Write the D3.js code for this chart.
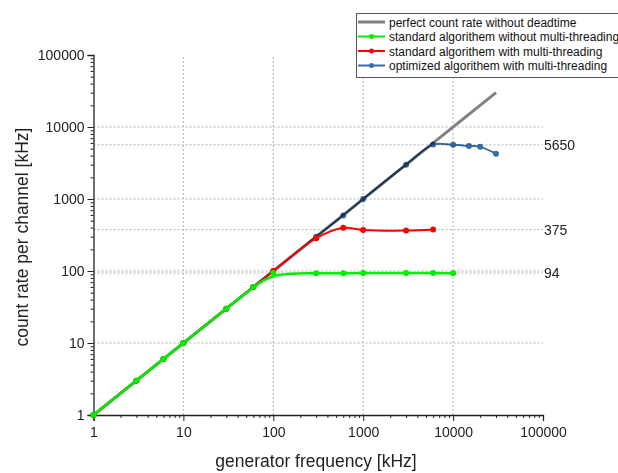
<html>
<script src="https://d3js.org/d3.v7.min.js"></script>
<body style="margin:0;background:white">
<svg width="618" height="473" id="chart"></svg>
<script>

// data
var perfectFreq= [1, 30000];
var perfectRate= [1, 30000];

var stdFreq= [1, 3, 6, 10, 30, 60, 100, 300, 600, 1000, 3000, 6000, 10000];
var stdRate= [1, 3, 6, 10, 30, 60, 94, 93, 93, 94, 94, 94, 93];

var stdMtFreq= [1, 3, 6, 10, 30, 60, 100, 300, 600, 1000, 3000, 6000];
var stdMtRate= [1, 3, 6, 10, 30, 60, 100, 285, 398, 372, 364, 377];

var optFreq= [1, 3, 6, 10, 30, 60, 100, 300, 600, 1000, 3000, 6000, 10000, 15000, 20000, 30000];
var optRate= [1, 3, 6, 10, 30, 60, 100, 300, 590, 1000, 3000, 5700, 5650, 5450, 5300, 4250];

var decades= [1, 10, 100, 1000, 10000, 100000];
var levelValues= [94, 375, 5650];

var seriesNames= ["perfect count rate without deadtime",
  "standard algorithem without multi-threading",
  "standard algorithem with multi-threading",
  "optimized algorithem with multi-threading"];

var svg= d3.select("#chart");
var font= "'Liberation Sans', Arial, sans-serif";

var x= d3.scaleLog().domain([1, 100000]).range([93.5, 543]);
var y= d3.scaleLog().domain([1, 100000]).range([415, 55]);

// minor ticks 2..9 in each decade
var minors= [];
decades.slice(0, 5).forEach(function (d) {
  for (var k= 2; k < 10; k++) minors.push(d * k);
});

// grid lines
var gridY= [10, 100, 1000, 10000].concat(levelValues);
svg.append("g").selectAll("line").data(gridY).enter().append("line")
  .attr("x1", x(1)).attr("x2", x(100000))
  .attr("y1", function (d) { return y(d); })
  .attr("y2", function (d) { return y(d); })
  .style("stroke", "#b4b4b4").style("stroke-width", 1)
  .style("stroke-dasharray", "2,2");

svg.append("g").selectAll("line").data([10, 100, 1000, 10000]).enter().append("line")
  .attr("y1", y(1)).attr("y2", y(100000))
  .attr("x1", function (d) { return x(d); })
  .attr("x2", function (d) { return x(d); })
  .style("stroke", "#b4b4b4").style("stroke-width", 1)
  .style("stroke-dasharray", "2,2");

// level labels on the right
svg.append("g").selectAll("text").data(levelValues).enter().append("text")
  .attr("x", x(100000) + 1)
  .attr("y", function (d) { return y(d) + 5; })
  .style("font-family", font).style("font-size", "14px").style("fill", "#222")
  .text(function (d) { return d; });

// axes
var fmt= function (d) { return String(d); };
var xAxis= svg.append("g").attr("transform", "translate(0," + y(1) + ")");
xAxis.call(d3.axisBottom(x).tickValues(decades).tickFormat(fmt).tickSize(6).tickPadding(6));
var xMinor= svg.append("g").attr("transform", "translate(0," + y(1) + ")");
xMinor.call(d3.axisBottom(x).tickValues(minors).tickFormat("").tickSize(3));

var yAxis= svg.append("g").attr("transform", "translate(" + x(1) + ",0)");
yAxis.call(d3.axisLeft(y).tickValues(decades).tickFormat(fmt).tickSize(6).tickPadding(3));
var yMinor= svg.append("g").attr("transform", "translate(" + x(1) + ",0)");
yMinor.call(d3.axisLeft(y).tickValues(minors).tickFormat("").tickSize(3));

svg.selectAll(".domain").style("stroke", "#222").style("stroke-width", 1.3);
svg.selectAll(".tick line").style("stroke", "#222");
svg.selectAll(".tick text").style("font-family", font).style("font-size", "14px").style("fill", "#222");
xMinor.select(".domain").remove();
yMinor.select(".domain").remove();

// axis titles
svg.append("text")
  .attr("x", 316).attr("y", 467)
  .attr("text-anchor", "middle")
  .style("font-family", font).style("font-size", "17.5px").style("fill", "#222")
  .text("generator frequency [kHz]");

svg.append("text")
  .attr("transform", "translate(28,237) rotate(-90)")
  .attr("text-anchor", "middle")
  .style("font-family", font).style("font-size", "17.5px").style("fill", "#222")
  .text("count rate per channel [kHz]");

// series
var makeLine= function (curve) {
  return d3.line()
    .x(function (d) { return x(d[0]); })
    .y(function (d) { return y(d[1]); })
    .curve(curve);
};

var drawSeries= function (freq, rate, color, width, dots, curve, blend) {
  var pts= d3.zip(freq, rate);
  var g= svg.append("g");
  if (blend) g.style("mix-blend-mode", blend);
  g.append("path").datum(pts)
    .attr("d", makeLine(curve))
    .style("fill", "none").style("stroke", color).style("stroke-width", width);
  if (dots) {
    g.selectAll("circle").data(pts).enter().append("circle")
      .attr("cx", function (d) { return x(d[0]); })
      .attr("cy", function (d) { return y(d[1]); })
      .attr("r", 3)
      .style("fill", color);
  }
};

drawSeries(perfectFreq, perfectRate, "#808080", 3, false, d3.curveLinear);
drawSeries(optFreq, optRate, "#3a6da6", 2, true, d3.curveCatmullRom.alpha(0.5), "multiply");
drawSeries(stdMtFreq, stdMtRate, "#ff0000", 2, true, d3.curveCatmullRom.alpha(0.5));
drawSeries(stdFreq, stdRate, "#00ee00", 2.5, true, d3.curveBasis);

// legend
var colors= ["#808080", "#00ee00", "#ff0000", "#3a6da6"];
var legend= svg.append("g");
legend.append("rect")
  .attr("x", 356.5).attr("y", 13.5).attr("width", 270).attr("height", 64)
  .style("fill", "white").style("stroke", "#555").style("stroke-width", 1);
seriesNames.forEach(function (name, i) {
  var ly= 22 + i * 14.5;
  legend.append("line")
    .attr("x1", 358).attr("x2", 385).attr("y1", ly).attr("y2", ly)
    .style("stroke", colors[i]).style("stroke-width", i == 0 ? 3 : 2);
  if (i > 0) {
    legend.append("circle").attr("cx", 371.5).attr("cy", ly).attr("r", 2.5)
      .style("fill", colors[i]);
  }
  legend.append("text")
    .attr("x", 389).attr("y", ly + 4.5)
    .style("font-family", font).style("font-size", "12px").style("fill", "#111")
    .text(name);
});

</script>
</body>
</html>
